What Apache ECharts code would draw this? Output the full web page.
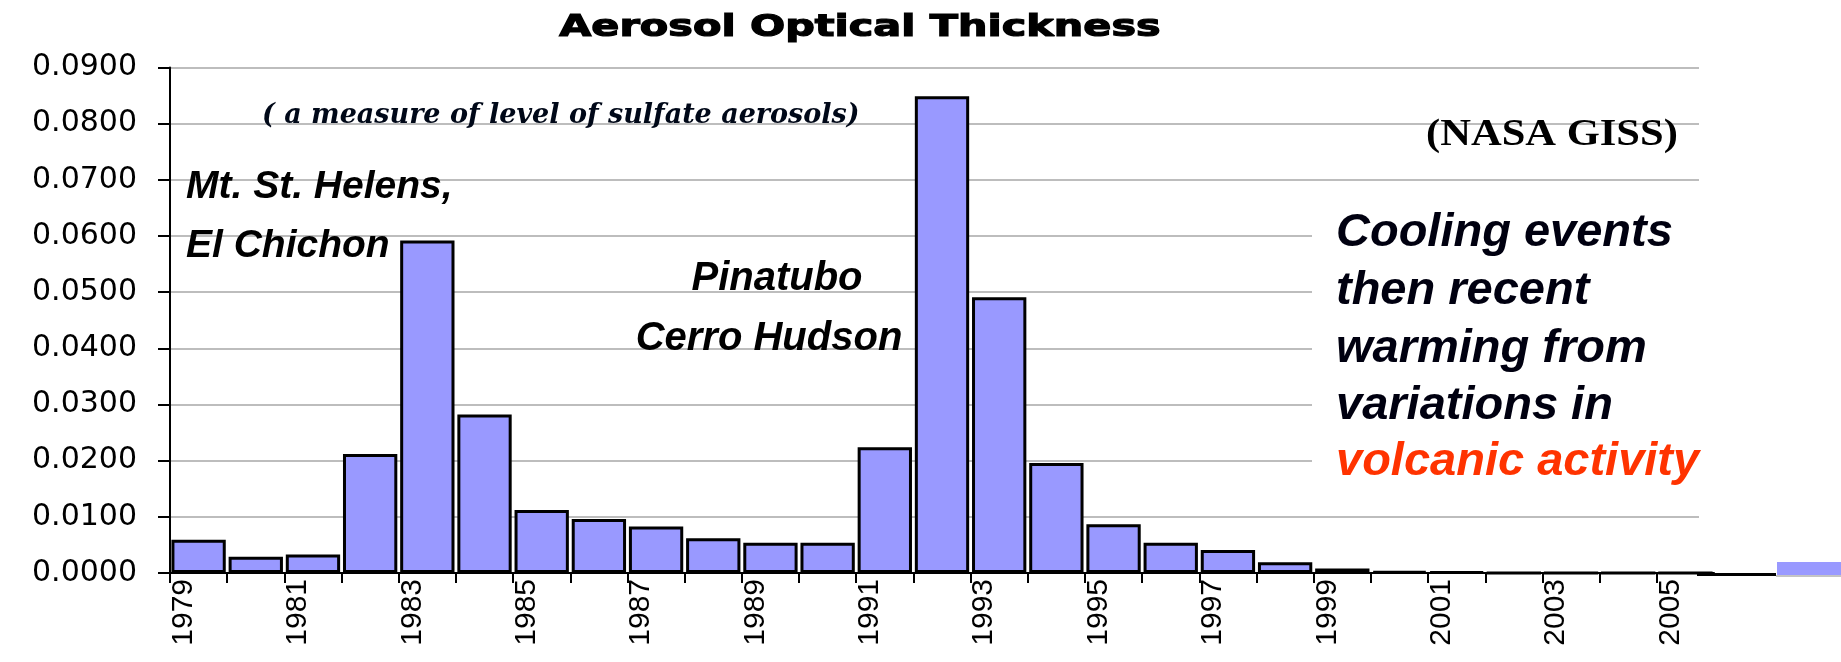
<!DOCTYPE html>
<html>
<head>
<meta charset="utf-8">
<script src="https://cdn.jsdelivr.net/npm/echarts@6/dist/echarts.min.js"></script>
<style>
html,body{margin:0;padding:0;background:#fff;}
#chart{width:1841px;height:662px;}
</style>
</head>
<body>
<div id="chart"></div>
<script>
var years = ['1979','1980','1981','1982','1983','1984','1985','1986','1987','1988','1989','1990','1991','1992','1993','1994','1995','1996','1997','1998','1999','2000','2001','2002','2003','2004','2005'];
var aot = [0.0059,0.0029,0.0033,0.0212,0.0592,0.0282,0.0112,0.0096,0.0083,0.0062,0.0054,0.0054,0.0224,0.0849,0.0491,0.0196,0.0087,0.0054,0.0041,0.0019,0.0008,0.0003,0.0002,0,0,0,0];
var yTicks = {min: 0, max: 0.09, interval: 0.01};
var titleText = 'Aerosol Optical Thickness';
var subText = '( a measure of level of sulfate aerosols)';
var sourceText = '(NASA GISS)';
var note1 = ['Mt. St. Helens,', 'El Chichon'];
var note2 = ['Pinatubo', 'Cerro Hudson'];
var coolingLines = ['Cooling events', 'then recent', 'warming from', 'variations in'];
var coolingRed = 'volcanic activity';

var chart = echarts.init(document.getElementById('chart'), null, {renderer: 'canvas'});

var sansBI = 'italic bold 39px "Liberation Sans", Arial, sans-serif';
var graphics = [
  {type:'text', z:100, x:860, y:28, scaleX:1.38, style:{text:titleText, x:0, y:0, textAlign:'center', textVerticalAlign:'middle', font:'bold 30px "DejaVu Sans", sans-serif', fill:'#000', stroke:'#000', lineWidth:1.2}},
  {type:'text', z:100, style:{text:subText, x:262, y:116, textAlign:'left', textVerticalAlign:'middle', font:'italic bold 27px "DejaVu Serif", serif', fill:'#000818'}},
  {type:'text', z:100, x:1426, y:135, scaleX:1.15, style:{text:sourceText, x:0, y:0, textAlign:'left', textVerticalAlign:'middle', font:'bold 37px "Liberation Serif", serif', fill:'#000'}},
  {type:'text', z:100, style:{text:note1[0], x:186, y:187, textAlign:'left', textVerticalAlign:'middle', font:sansBI, fill:'#000'}},
  {type:'text', z:100, style:{text:note1[1], x:186, y:246, textAlign:'left', textVerticalAlign:'middle', font:sansBI, fill:'#000'}},
  {type:'text', z:100, style:{text:note2[0], x:777, y:279, textAlign:'center', textVerticalAlign:'middle', font:'italic bold 40px "Liberation Sans", Arial, sans-serif', fill:'#000'}},
  {type:'text', z:100, style:{text:note2[1], x:769, y:339, textAlign:'center', textVerticalAlign:'middle', font:'italic bold 40px "Liberation Sans", Arial, sans-serif', fill:'#000'}},
  // white box behind the annotation
  {type:'rect', z:50, shape:{x:1312, y:192, width:400, height:308}, style:{fill:'#fff'}},
  // crop at right end of plot
  {type:'rect', z:50, shape:{x:1699, y:55, width:20, height:516}, style:{fill:'#fff'}},
  {type:'rect', z:50, shape:{x:1699, y:576, width:20, height:14}, style:{fill:'#fff'}},
  // legend fragments at right edge
  {type:'line', z:60, shape:{x1:1697, y1:574.5, x2:1776, y2:574.5}, style:{stroke:'#000', lineWidth:3}},
  {type:'line', z:60, shape:{x1:1776, y1:576, x2:1841, y2:576}, style:{stroke:'#888', lineWidth:1}},
  {type:'rect', z:60, shape:{x:1777, y:562, width:64, height:13}, style:{fill:'#9999ff'}}
];
var cy = [233, 291, 349, 406];
for (var i = 0; i < coolingLines.length; i++) {
  graphics.push({type:'text', z:100, style:{text:coolingLines[i], x:1336, y:cy[i], textAlign:'left', textVerticalAlign:'middle', font:'italic bold 47px "Liberation Sans", Arial, sans-serif', fill:'#000010'}});
}
graphics.push({type:'text', z:100, style:{text:coolingRed, x:1336, y:462, textAlign:'left', textVerticalAlign:'middle', font:'italic bold 47px "Liberation Sans", Arial, sans-serif', fill:'#ff3300'}});

chart.setOption({
  animation: false,
  backgroundColor: '#fff',
  grid: {left: 170, top: 67.5, width: 1544, height: 505.5, containLabel: false},
  xAxis: {
    type: 'category',
    data: years,
    boundaryGap: true,
    axisLine: {lineStyle: {color: '#000', width: 2}},
    axisTick: {show: true, interval: 0, length: 10, lineStyle: {color: '#000', width: 2}},
    axisLabel: {interval: 1, rotate: 90, margin: 6, verticalAlign: 'bottom', fontFamily: '"Liberation Sans", Arial, sans-serif', fontSize: 30, color: '#000'},
    splitLine: {show: false}
  },
  yAxis: {
    type: 'value',
    min: yTicks.min, max: yTicks.max, interval: yTicks.interval,
    axisLine: {show: true, lineStyle: {color: '#000', width: 2}},
    axisTick: {show: true, length: 12, lineStyle: {color: '#000', width: 2}},
    axisLabel: {margin: 33, fontFamily: '"DejaVu Sans", sans-serif', fontSize: 30, color: '#000',
      formatter: function (v) { return v.toFixed(4); }},
    splitLine: {show: true, lineStyle: {color: '#bdbdbd', width: 2}}
  },
  series: [{
    type: 'bar',
    data: aot,
    barCategoryGap: '5%',
    itemStyle: {color: '#9999ff', borderColor: '#000', borderWidth: 3}
  }],
  graphic: graphics
});
</script>
</body>
</html>
